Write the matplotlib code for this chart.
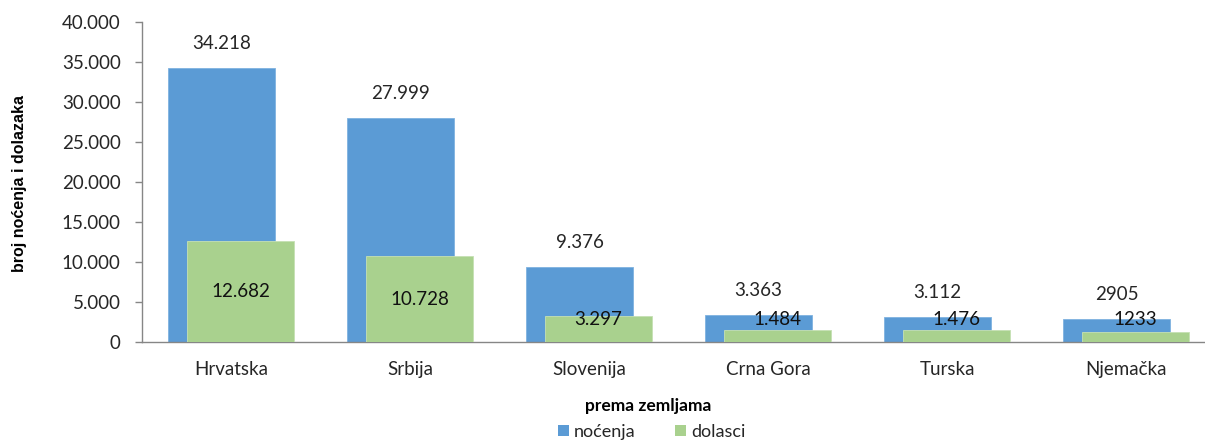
import matplotlib
matplotlib.use("Agg")
import matplotlib.pyplot as plt
import numpy as np
from matplotlib.ticker import FuncFormatter
from matplotlib.patches import Patch

categories = ["Hrvatska", "Srbija", "Slovenija", "Crna Gora", "Turska", "Njemačka"]
nocenja = [34218, 27999, 9376, 3363, 3112, 2905]
dolasci = [12682, 10728, 3297, 1484, 1476, 1233]
nocenja_labels = ["34.218", "27.999", "9.376", "3.363", "3.112", "2905"]
dolasci_labels = ["12.682", "10.728", "3.297", "1.484", "1.476", "1233"]

BLUE = "#5B9BD5"
GREEN = "#A9D18E"
TXT = "#262626"
AXC = "#868686"

W, H = 1205, 441
fig = plt.figure(figsize=(W / 100, H / 100), dpi=100)
left, right = 141.5, 1215.5
top, bottom = 22, 342
ax = fig.add_axes([left / W, (H - bottom) / H, (right - left) / W, (bottom - top) / H])

x = np.arange(len(categories))
width = 0.598
off = 0.053
ax.bar(x - off, nocenja, width=width, color=BLUE, edgecolor="#7FB2E0", linewidth=0.6, zorder=2)
ax.bar(x + off, dolasci, width=width, color=GREEN, edgecolor="#C5E0B4", linewidth=0.6, zorder=3)

font = "Lato"
FS = 13.5
for i in range(len(categories)):
    ax.annotate(nocenja_labels[i], (x[i] - off, nocenja[i]), xytext=(0, 17.5),
                textcoords="offset points", ha="center", va="center",
                fontsize=FS, color=TXT, family=font, zorder=5)
    ax.text(x[i] + off, max(dolasci[i] / 2, 2850), dolasci_labels[i], ha="center", va="center",
            fontsize=FS, color="#111111", family=font, zorder=5)

ax.set_xlim(-0.5, len(categories) - 0.5)
ax.set_ylim(0, 40000)
ax.set_yticks(np.arange(0, 40001, 5000))
ax.yaxis.set_major_formatter(FuncFormatter(lambda v, p: "0" if v == 0 else f"{int(v):,}".replace(",", ".")))
ax.set_xticks(x)
ax.set_xticklabels(categories)
for lab in ax.get_xticklabels() + ax.get_yticklabels():
    lab.set_family(font)
    lab.set_fontsize(FS)
    lab.set_color(TXT)
ax.tick_params(axis="x", length=0, pad=14)
ax.tick_params(axis="y", length=5, width=1, color=AXC, pad=10)
for s in ["top", "right"]:
    ax.spines[s].set_visible(False)
ax.spines["left"].set_color(AXC)
ax.spines["bottom"].set_color(AXC)
ax.spines["left"].set_linewidth(1)
ax.spines["bottom"].set_linewidth(1)

fig.text(20 / W, 1 - 183 / H, "broj noćenja i dolazaka", rotation=90, ha="center", va="center",
         fontsize=11.5, fontweight="bold", family="Liberation Sans", color="black")
fig.text(648 / W, 1 - 406 / H, "prema zemljama", ha="center", va="center",
         fontsize=12.5, fontweight="bold", family="Lato", color="black")

handles = [Patch(facecolor=BLUE), Patch(facecolor=GREEN)]
leg = fig.legend(handles, ["noćenja", "dolasci"], loc="center", bbox_to_anchor=(652 / W, 1 - 432 / H),
                 ncol=2, frameon=False, prop={"family": font, "size": 13},
                 handlelength=0.6, handleheight=0.6, handletextpad=0.3, columnspacing=2.2,
                 borderpad=0)
for t in leg.get_texts():
    t.set_color(TXT)

fig.savefig("out.png", dpi=100)
